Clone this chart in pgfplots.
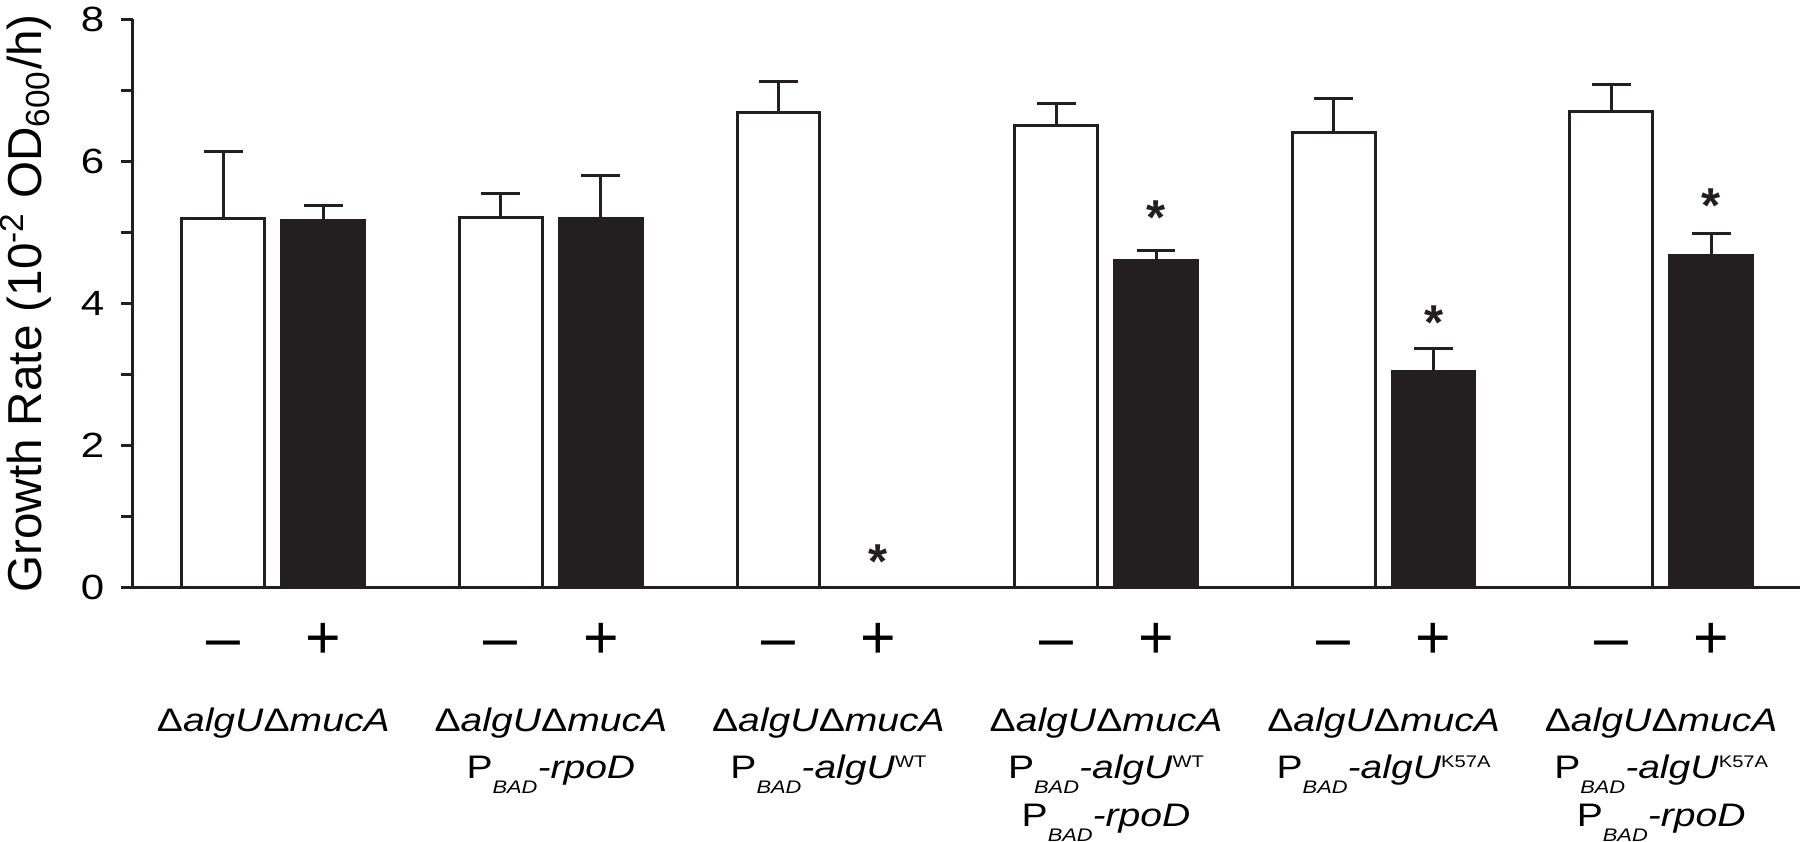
\documentclass[border=0pt]{standalone}
\usepackage{fontspec}
\setmainfont{Liberation Sans}[FakeStretch=1.2]
\newfontfamily\plainsans{Liberation Sans}
\usepackage{pgfplots}
\pgfplotsset{compat=1.18}
\definecolor{barblack}{RGB}{35,31,32}
\newcommand{\D}{{\upshape Δ}}
\newcommand{\strain}{\D\textit{algU}\D\textit{mucA}}
\newcommand{\PB}{P\raisebox{-4.3pt}{\fontsize{5.2}{6}\selectfont\itshape BAD}}
\newcommand{\sups}[1]{\raisebox{3.3pt}{\fontsize{4.8}{6}\selectfont #1}}
\pgfplotsset{
  common/.style={scale only axis, width=167.33mm, height=57.04mm,
    xmin=0.494, xmax=6.5, ymin=0, ymax=8, clip=false},
  errstyle/.style={error bars/.cd, y dir=plus, y explicit,
    error bar style={line width=0.3mm, barblack},
    error mark options={rotate=90, mark size=1.95mm, line width=0.3mm, barblack}},
}
\begin{document}
\begin{tikzpicture}
\begin{axis}[
  name=main,
  common,
  axis x line*=bottom, axis y line*=left,
  axis line style={-, line width=0.3mm, barblack},
  every tick/.style={line width=0.3mm, barblack},
  tick align=outside,
  major tick length=1.2mm, minor tick length=1.2mm,
  ytick={0,2,4,6,8}, minor ytick={1,3,5,7},
  ytick pos=left,
  /pgf/number format/assume math mode=true,
  yticklabel style={font=\fontsize{10}{12}\selectfont, inner ysep=0pt, inner xsep=1.6mm},
  xtick={0.82,1.18,1.82,2.18,2.82,3.18,3.82,4.18,4.82,5.18,5.82,6.18},
  xticklabels={–,+,–,+,–,+,–,+,–,+,–,+},
  xtick style={draw=none},
  xticklabel style={font=\plainsans\fontsize{17.4}{20}\selectfont, anchor=base, inner sep=0pt, yshift=-5.9mm},
  ylabel={\plainsans\fontsize{13.6}{16}\selectfont Growth Rate (10\textsuperscript{-2} OD\textsubscript{600}/h)},
  ylabel style={at={(axis description cs:0,0.5)}, anchor=south, inner sep=0pt, yshift=8.1mm},
]
\addplot[ybar, bar width=0.298, bar shift=0pt, fill=white, draw=barblack, line width=0.3mm, errstyle]
  table[x=x, y=y, y error=e] {
x    y    e
0.82 5.19 0.95
1.82 5.21 0.34
2.82 6.69 0.43
3.82 6.51 0.30
4.82 6.41 0.48
5.82 6.70 0.39
};
\addplot[ybar, bar width=0.298, bar shift=0pt, fill=barblack, draw=barblack, line width=0.3mm, errstyle]
  table[x=x, y=y, y error=e] {
x    y    e
1.18 5.17 0.21
2.18 5.20 0.60
4.18 4.61 0.14
5.18 3.04 0.32
6.18 4.67 0.31
};
\addplot[draw=none, mark=none,
  nodes near coords={\plainsans\bfseries\fontsize{14}{16}\selectfont *},
  every node near coord/.style={anchor=north, inner sep=0pt, text=barblack}]
  coordinates {(3.18,0.61) (4.18,5.45) (5.18,3.98) (6.18,5.62)};
\end{axis}
\begin{axis}[
  name=lab,
  common,
  axis x line*=bottom, axis y line*=left,
  axis line style={-, draw=none},
  ytick=\empty,
  major tick length=0pt,
  xtick={1,2,3,4,5,6},
  xtick style={draw=none},
  xticklabels={
    {\strain},
    {\strain\\\PB\textit{-rpoD}},
    {\strain\\\PB\textit{-algU}\sups{WT}},
    {\strain\\\PB\textit{-algU}\sups{WT}\\\PB\textit{-rpoD}},
    {\strain\\\PB\textit{-algU}\sups{K57A}},
    {\strain\\\PB\textit{-algU}\sups{K57A}\\\PB\textit{-rpoD}}},
  xticklabel style={font=\fontsize{9.3}{13.5}\selectfont, anchor=north, align=center, inner sep=0pt, yshift=-12.0mm},
]
\end{axis}
\pgfresetboundingbox
\path[use as bounding box] (main.outer south west |- lab.outer south west) rectangle ([yshift=0.7mm]main.south east |- main.outer north east);
\end{tikzpicture}
\end{document}
